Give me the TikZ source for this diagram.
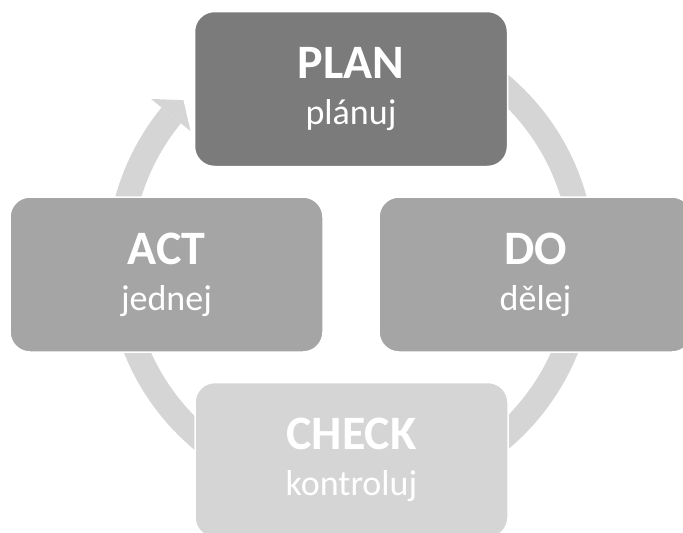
\documentclass[tikz,border=0pt]{standalone}
\usepackage{fontspec}
\setmainfont{Carlito}
\definecolor{plancol}{HTML}{7B7B7B}
\definecolor{midcol}{HTML}{A5A5A5}
\definecolor{lightcol}{HTML}{D5D5D5}
\tikzset{
  stagebox/.style={rectangle, rounded corners=20pt, draw=white, line width=1.5pt,
    minimum width=313pt, minimum height=155pt, text=white, align=center,
    font=\fontsize{36}{46}\selectfont},
  ringband/.style={draw=lightcol, line width=25pt},
  ringhead/.style={fill=lightcol, draw=none}
}
\newcommand{\stagetitle}[1]{{\fontsize{48}{46}\selectfont\bfseries #1}}
\begin{document}
\begin{tikzpicture}[x=1pt,y=-1pt]
\useasboundingbox (0,0) rectangle (683,533);
\clip (0,0) rectangle (683,533);
% cycle ring
\begin{scope}[shift={(351,262)}]
  \draw[ringband] (-140.8:232) arc[start angle=-140.8, end angle=-460, radius=232];
  \fill[ringhead] (-140.8:207) -- (-136:233) -- (-140.8:258) -- cycle;
\end{scope}
% stages
\node[stagebox, fill=plancol] (plan) at (351,89) {\stagetitle{PLAN}\\plánuj};
\node[stagebox, fill=midcol] (do) at (535.5,274.5) {\stagetitle{DO}\\dělej};
\node[stagebox, fill=lightcol] (check) at (351.5,460) {\stagetitle{CHECK}\\kontroluj};
\node[stagebox, fill=midcol] (act) at (166.5,274.5) {\stagetitle{ACT}\\jednej};
\end{tikzpicture}
\end{document}
